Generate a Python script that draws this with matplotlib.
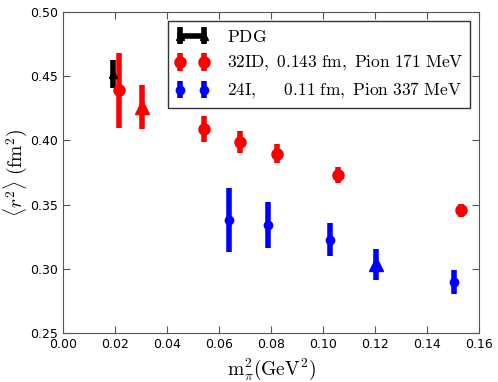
import numpy as np
import matplotlib
matplotlib.use("Agg")
import matplotlib.pyplot as plt

plt.rcParams['mathtext.fontset'] = 'cm'

# PDG value
pdg_x = [0.0192]
pdg_y = [0.452]
pdg_err = [0.011]

# 32ID, circles
id32_x = [0.0214, 0.0541, 0.0682, 0.0824, 0.1059, 0.1530]
id32_y = [0.439, 0.409, 0.399, 0.3897, 0.373, 0.3456]
id32_err = [0.029, 0.010, 0.0085, 0.0075, 0.0065, 0.005]
# 32ID, triangle
id32t_x = [0.0303]
id32t_y = [0.426]
id32t_err = [0.017]

# 24I, circles
i24_x = [0.0640, 0.0790, 0.1026, 0.1505]
i24_y = [0.338, 0.334, 0.3227, 0.290]
i24_err = [0.025, 0.018, 0.013, 0.0093]
# 24I, triangle
i24t_x = [0.1203]
i24t_y = [0.3035]
i24t_err = [0.0123]

fig = plt.figure(figsize=(4.98, 3.82), dpi=100)
ax = fig.add_axes([0.1265, 0.128, 0.8355, 0.8406])

ax.errorbar(pdg_x, pdg_y, yerr=pdg_err, color='k', marker='^', ms=6,
            elinewidth=4, lw=4, capsize=0,
            label=r'$\mathrm{PDG}$')
ax.errorbar(id32_x, id32_y, yerr=id32_err, fmt='o', color='r', ms=8,
            mec='r', elinewidth=4, capsize=0,
            label=r'$\mathrm{32ID,\ 0.143\ fm,\ Pion\ 171\ MeV}$')
ax.errorbar(id32t_x, id32t_y, yerr=id32t_err, fmt='^', color='r', ms=10,
            mec='r', elinewidth=4, capsize=0)
ax.errorbar(i24_x, i24_y, yerr=i24_err, fmt='o', color='b', ms=6,
            mec='b', elinewidth=4, capsize=0,
            label=r'$\mathrm{24I,\ \ \ \ \ 0.11\ fm,\ Pion\ 337\ MeV}$')
ax.errorbar(i24t_x, i24t_y, yerr=i24t_err, fmt='^', color='b', ms=10,
            mec='b', elinewidth=4, capsize=0)

ax.set_xlim(0, 0.16)
ax.set_ylim(0.25, 0.50)
ax.set_xticks(np.arange(0, 0.161, 0.02))
ax.set_yticks(np.arange(0.25, 0.501, 0.05))
ax.xaxis.set_major_formatter(matplotlib.ticker.FormatStrFormatter('%.2f'))
ax.yaxis.set_major_formatter(matplotlib.ticker.FormatStrFormatter('%.2f'))
ax.tick_params(direction='in', top=True, right=True, length=5, labelsize=9,
               color='#555555')
for s in ax.spines.values():
    s.set_color('#555555')

ax.set_xlabel(r'$\mathrm{m_{\pi}^{2}(GeV^{2})}$', fontsize=14)
ax.set_ylabel(r'$\langle r^{2}\rangle\ (\mathrm{fm}^{2})$', fontsize=14,
              labelpad=1)

leg = ax.legend(loc='upper right', numpoints=2, fontsize=12.5, fancybox=False,
                framealpha=1, borderaxespad=0.5, handlelength=2.0,
                handletextpad=1.0, labelspacing=0.45)
leg.get_frame().set_edgecolor('#333333')

fig.savefig('out.png', dpi=100)
